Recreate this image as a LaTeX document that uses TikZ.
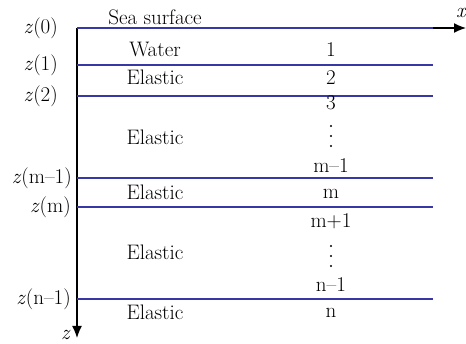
\documentclass[tikz,border=0pt]{standalone}
\usetikzlibrary{arrows.meta}
\definecolor{layerblue}{RGB}{55,55,165}
\tikzset{
  axis/.style={-{Latex[length=12pt,width=10pt]}, line width=1.4pt, black},
  iface/.style={line width=2pt, draw=layerblue},
  lbl/.style={font=\fontsize{21}{24}\selectfont, inner sep=0pt},
  zlbl/.style={lbl, anchor=base east},
  mid/.style={lbl, anchor=base}
}
\begin{document}
\begin{tikzpicture}[x=1pt,y=-1pt]
\useasboundingbox (0,0) rectangle (466,344);
\coordinate (origin) at (77,28);
\coordinate (xend) at (466,28);
\coordinate (zend) at (77,338);
\draw[axis] (origin) -- (xend);
\draw[axis] (origin) -- (zend);
\node[lbl, anchor=base west] (xlab) at (456,18) {\textit{x}};
\node[mid] (zlab) at (66,340) {\textit{z}};
% interfaces
\foreach \name/\y/\lx/\lab in {i0/28/58/0, i1/65/58/1, i2/96/58/2, im1/178/72/m--1, im/207/71/m, in1/299/71/n--1}{
  \coordinate (\name l) at (77,\y);
  \coordinate (\name r) at (433,\y);
  \draw[iface] (\name l) -- (\name r);
  \node[zlbl] (\name lab) at (\lx,\y+6) {\textit{z}(\lab)};
}
% layer names
\foreach \name/\y/\txt in {sea/25/Sea surface, water/57/Water, el2/85/Elastic, el3/145/Elastic, elm/200/Elastic, elmp/260/Elastic, eln/320/Elastic}
  \node[mid] (\name) at (155,\y) {\txt};
% layer numbers
\foreach \name/\y/\txt in {n1/57/1, n2/85/2, n3/110/3, nm1/173/m--1, nm/199/m, nmp/228/m+1, nn1/292/n--1, nn/318/n}
  \node[mid] (\name) at (331,\y) {\txt};
% dots
\foreach \d in {126,136,146,246,256,266}
  \fill (331,\d) circle (1.2pt);
\end{tikzpicture}
\end{document}
